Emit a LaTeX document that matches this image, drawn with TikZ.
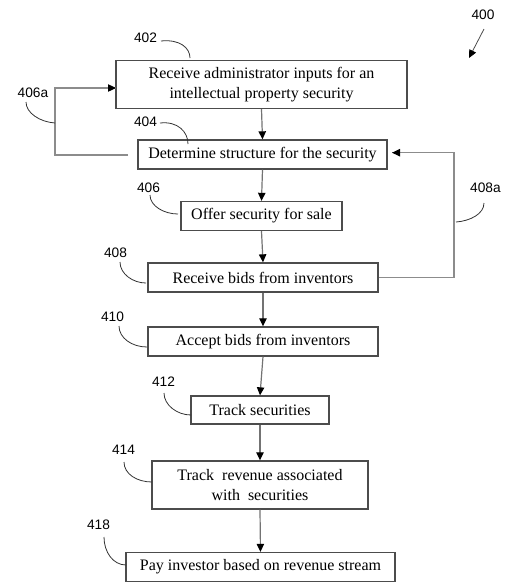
\documentclass[tikz,border=0pt]{standalone}
\usepackage{fontspec}
\setmainfont{Liberation Serif}
\newfontfamily\labfont{Liberation Sans}
\usetikzlibrary{arrows.meta}
\newdimen\pxu \pxu=0.75pt
\begin{document}
\begin{tikzpicture}[x=0.75pt,y=-0.75pt,
  box/.style={draw=black!70, line width=1pt, inner sep=0pt, align=center, text=black,
    font=\fontsize{12}{14.5}\selectfont},
  conn/.style={draw=black!55, line width=0.9pt, -{Triangle[length=6pt,width=5.5pt,color=black]}},
  loopline/.style={draw=black!45, line width=0.9pt},
  lab/.style={font=\labfont\fontsize{10.3}{12}\selectfont, inner sep=0pt, text=black},
  lead/.style={draw=black!80, line width=0.6pt}]
\useasboundingbox (0,0) rectangle (513,587);

% boxes
\node[box, minimum width=291\pxu, minimum height=48\pxu] (b402) at (261.5,84.5)
  {Receive administrator inputs for an\\intellectual property security};
\node[box, minimum width=249\pxu, minimum height=29\pxu] (b404) at (262.5,154.5)
  {Determine structure for the security};
\node[box, minimum width=161\pxu, minimum height=29\pxu] (b406) at (261.5,216)
  {Offer security for sale};
\node[box, minimum width=230\pxu, minimum height=29\pxu] (b408) at (263,277.5)
  {Receive bids from inventors};
\node[box, minimum width=230\pxu, minimum height=29\pxu] (b410) at (263,341.5)
  {Accept bids from inventors};
\node[box, minimum width=138\pxu, minimum height=28\pxu] (b412) at (260,410)
  {Track securities};
\node[box, minimum width=216\pxu, minimum height=48\pxu] (b414) at (260,485)
  {Track~ revenue associated\\with~ securities};
\node[box, minimum width=269\pxu, minimum height=29\pxu] (b418) at (260.5,567)
  {Pay investor based on revenue stream};

% main flow
\draw[conn] (b402.south) -- (b404.north);
\draw[conn] (b404.south) -- (b406.north);
\draw[conn] (b406.south) -- (b408.north);
\draw[conn] (b408.south) -- (b410.north);
\draw[conn] (b410.south) -- (b412.north);
\draw[conn] (b412.south) -- (b414.north);
\draw[conn] (b414.south) -- (b418.north);

% loop 406a
\coordinate (s406a) at (128,155);
\coordinate (e406a) at (116,88);
\draw[loopline] (s406a) -- (55,155) -- (55,88) -- (e406a);
\draw[conn, draw=black!45] (80,88) -- (e406a);

% loop 408a
\coordinate (e408a) at (392,152.7);
\draw[loopline] (b408.east) -- (454,277.5) -- (454,152.7) -- (e408a);
\draw[conn, draw=black!45] (420,152.7) -- (e408a);

% labels
\node[lab] (l400) at (483,15) {400};
\node[lab] (l402) at (145.5,38) {402};
\node[lab] (l404) at (145.5,121.5) {404};
\node[lab] (l406a) at (33,93) {406a};
\node[lab] (l406) at (148.5,187.5) {406};
\node[lab] (l408a) at (485.5,187.5) {408a};
\node[lab] (l408) at (115.5,252.5) {408};
\node[lab] (l410) at (112.5,317) {410};
\node[lab] (l412) at (163.5,381.5) {412};
\node[lab] (l414) at (123.5,450) {414};
\node[lab] (l418) at (98.5,525) {418};

% 400 arrow
\coordinate (a400) at (469,58);
\draw[draw=black!70, line width=0.6pt, -{Triangle[length=6pt,width=5.5pt,color=black]}] (484,29) -- (a400);

% leaders
\draw[lead] (161,41) .. controls (180,39) and (190,48) .. (190,58);
\draw[lead] (160,123) .. controls (178,121) and (188,132) .. (188,144);
\draw[lead] (26,102) .. controls (26,113) and (40,122) .. (55,123);
\draw[lead] (150,195) .. controls (150,206) and (164,214) .. (178,214);
\draw[lead] (484,203) .. controls (484,214) and (470,221) .. (456,222);
\draw[lead] (120,262) .. controls (120,274) and (133,283) .. (146,283);
\draw[lead] (119,326) .. controls (119,338) and (132,347) .. (147,347);
\draw[lead] (164,393) .. controls (164,405) and (177,415) .. (191,415);
\draw[lead] (124,462) .. controls (124,474) and (137,482) .. (152,482);
\draw[lead] (104,537) .. controls (104,552) and (113,565) .. (126,565);
\end{tikzpicture}
\end{document}
